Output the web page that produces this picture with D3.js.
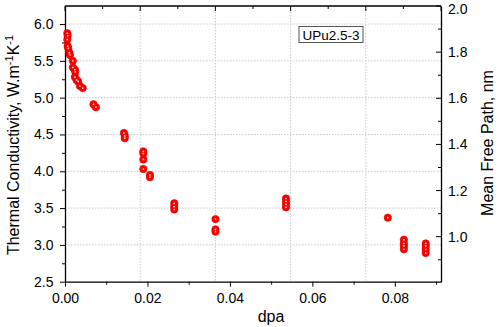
<!DOCTYPE html>
<html><head><meta charset="utf-8">
<script src="https://cdn.jsdelivr.net/npm/d3@7"></script>
<style>body{margin:0;background:#fff}svg{display:block}text{font-family:"Liberation Sans",Arial,sans-serif}</style>
</head><body><svg id="c" width="498" height="327"></svg>
<script>
const dpa = [0.00056,0.00065,0.00056,0.00065,0.0008,0.00105,0.0012,0.0019,0.0019,0.0024,0.0025,0.0024,0.0028,0.0032,0.0036,0.0043,0.0069,0.0075,0.0143,0.0145,0.0145,0.019,0.019,0.019,0.019,0.0206,0.0206,0.0265,0.0265,0.0265,0.0365,0.0365,0.0365,0.0536,0.0536,0.0536,0.0536,0.0783,0.0822,0.0822,0.0822,0.0822,0.0875,0.0875,0.0875,0.0875];
const conductivity = [5.875,5.84,5.79,5.70,5.67,5.61,5.58,5.50,5.41,5.38,5.35,5.28,5.24,5.22,5.16,5.13,4.91,4.87,4.52,4.48,4.45,4.27,4.24,4.16,4.03,3.95,3.92,3.565,3.52,3.48,3.35,3.21,3.18,3.63,3.59,3.55,3.51,3.37,3.07,3.02,2.985,2.94,3.02,2.985,2.94,2.89];
const xTicks = [0,0.02,0.04,0.06,0.08];
const yLeftTicks = [2.5,3.0,3.5,4.0,4.5,5.0,5.5,6.0];
const yRightTicks = [1.0,1.2,1.4,1.6,1.8,2.0];
const labelText = "UPu2.5-3";

const svg = d3.select("#c");
const L=65,R=441,T=6,B=281.7;
const x = d3.scaleLinear().domain([0,0.0912]).range([L,R]);
const y = d3.scaleLinear().domain([2.5,6.245]).range([B,T]);
const y2 = d3.scaleLinear().domain([0.805,2.0]).range([B,T]);
const xTop = d3.scaleLinear().domain([0,5]).range([L,R]);

// grid
const g = svg.append("g");
g.selectAll(".hg").data(yLeftTicks.filter(v=>v>2.5)).join("line")
 .attr("x1",L).attr("x2",R).attr("y1",d=>y(d)).attr("y2",d=>y(d))
 .attr("stroke","#c8c8c8").attr("stroke-width",1).attr("stroke-dasharray","1.5,1.5");
g.selectAll(".vg").data([1,2,3,4]).join("line")
 .attr("y1",T).attr("y2",B).attr("x1",d=>xTop(d)).attr("x2",d=>xTop(d))
 .attr("stroke","#c8c8c8").attr("stroke-width",1).attr("stroke-dasharray","1.5,1.5");

const fs = "14px";
// bottom axis
const xAx = d3.axisBottom(x).tickValues(xTicks).tickFormat(d3.format(".2f")).tickSize(5).tickPadding(6).tickSizeOuter(0);
svg.append("g").attr("transform",`translate(0,${B})`).call(xAx);
const xMinor = d3.axisBottom(x).tickValues([0.01,0.03,0.05,0.07,0.09]).tickFormat("").tickSize(3).tickSizeOuter(0);
svg.append("g").attr("transform",`translate(0,${B})`).call(xMinor).select(".domain").remove();
// left axis
const yAx = d3.axisLeft(y).tickValues(yLeftTicks).tickFormat(d3.format(".1f")).tickSize(5).tickPadding(6.5).tickSizeOuter(0);
svg.append("g").attr("transform",`translate(${L},0)`).call(yAx);
const yMinor = d3.axisLeft(y).tickValues([2.75,3.25,3.75,4.25,4.75,5.25,5.75]).tickFormat("").tickSize(3).tickSizeOuter(0);
svg.append("g").attr("transform",`translate(${L},0)`).call(yMinor).select(".domain").remove();
// right axis (inward ticks)
const yRAx = d3.axisRight(y2).tickValues(yRightTicks).tickFormat(d3.format(".1f")).tickSize(0).tickSizeOuter(0).tickPadding(7);
const gr = svg.append("g").attr("transform",`translate(${R},0)`).call(yRAx);
gr.selectAll(".tick line").remove();
gr.selectAll(".tick text").filter(d=>d===2.0).attr("dy","0.5em");
svg.append("g").selectAll("line").data(yRightTicks).join("line")
 .attr("x1",R-5).attr("x2",R).attr("y1",d=>y2(d)).attr("y2",d=>y2(d)).attr("stroke","#000");
svg.append("g").selectAll("line").data([0.9,1.1,1.3,1.5,1.7,1.9]).join("line")
 .attr("x1",R-3).attr("x2",R).attr("y1",d=>y2(d)).attr("y2",d=>y2(d)).attr("stroke","#000");
// top axis (inward ticks)
svg.append("line").attr("x1",L).attr("x2",R).attr("y1",T).attr("y2",T).attr("stroke","#000").attr("stroke-width",1.3);
svg.append("g").selectAll("line").data(d3.range(0,5.01,0.5)).join("line")
 .attr("x1",d=>xTop(d)).attr("x2",d=>xTop(d)).attr("y1",T).attr("y2",d=>T+(Number.isInteger(d)?5:3)).attr("stroke","#000");

svg.selectAll(".domain").attr("stroke","#000").attr("stroke-width",1.3);
svg.selectAll(".tick text").attr("font-size",fs).attr("fill","#000").style("font-family","'Liberation Sans',Arial,sans-serif");
svg.selectAll(".tick line").attr("stroke","#000");

// points
const pts = svg.append("g");
dpa.forEach((d,i)=>{
  pts.append("circle").attr("cx",x(d)).attr("cy",y(conductivity[i])).attr("r",3.7).attr("fill","#ff0000").attr("stroke","#e00000").attr("stroke-width",0.6);
});
dpa.forEach((d,i)=>{
  pts.append("circle").attr("cx",x(d)).attr("cy",y(conductivity[i])).attr("r",0.9).attr("fill","#ffd0d0");
});

// label box
const lb = svg.append("g");
lb.append("rect").attr("x",299).attr("y",26.5).attr("width",64).attr("height",16).attr("fill","#fff").attr("stroke","#555").attr("stroke-width",1);
lb.append("text").attr("x",331).attr("y",39.5).attr("text-anchor","middle").attr("font-size","13.5px").text(labelText);

// titles
svg.append("text").attr("x",271).attr("y",322).attr("text-anchor","middle").attr("font-size","16px").text("dpa");
const lt = svg.append("text").attr("transform","translate(19,145) rotate(-90)").attr("text-anchor","middle").attr("font-size","16px");
lt.append("tspan").text("Thermal Conductivity, W.m");
lt.append("tspan").attr("dy","-6").attr("font-size","11px").text("-1");
lt.append("tspan").attr("dy","6").text("K");
lt.append("tspan").attr("dy","-6").attr("font-size","11px").text("-1");
svg.append("text").attr("transform","translate(493,143) rotate(-90)").attr("text-anchor","middle").attr("font-size","16px").text("Mean Free Path, nm");
</script></body></html>
